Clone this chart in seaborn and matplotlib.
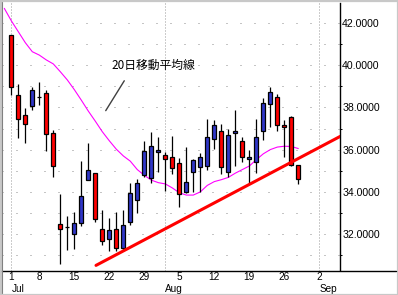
import matplotlib
matplotlib.use("Agg")
import matplotlib.pyplot as plt
import seaborn as sns
import pandas as pd
from matplotlib.lines import Line2D
from matplotlib.patches import Rectangle
import matplotlib.transforms as mtrans

# ---------------- data ----------------
dates = ["07-01", "07-02", "07-03", "07-05", "07-08", "07-09", "07-10", "07-11",
         "07-12", "07-15", "07-16", "07-17", "07-18", "07-19", "07-22", "07-23",
         "07-24", "07-25", "07-26", "07-29", "07-30", "07-31", "08-01", "08-02",
         "08-05", "08-06", "08-07", "08-08", "08-09", "08-12", "08-13", "08-14",
         "08-15", "08-16", "08-19", "08-20", "08-21", "08-22", "08-23", "08-26",
         "08-27", "08-28"]
opens = [41.44, 38.58, 37.63, 38.06, 38.48, 38.69, 36.77, 32.45, 32.31, 31.98,
         32.50, 34.57, 34.87, 32.21, 31.74, 32.21, 31.33, 32.55, 33.59, 34.77,
         34.65, 35.87, 35.74, 35.65, 35.36, 33.99, 34.95, 35.19, 35.21, 36.52,
         36.87, 34.92, 36.77, 36.39, 35.54, 35.40, 36.87, 38.15, 38.48, 37.15,
         37.53, 35.25]
highs = [41.44, 39.12, 37.96, 38.96, 39.21, 38.82, 36.93, 33.89, 32.85, 33.04,
         35.46, 36.30, 34.87, 33.12, 32.74, 33.02, 33.12, 34.41, 34.60, 36.41,
         36.84, 36.58, 35.87, 36.65, 35.62, 36.12, 35.54, 35.82, 37.45, 37.41,
         37.20, 36.98, 37.88, 36.60, 36.00, 37.45, 38.44, 38.97, 38.63, 37.41,
         37.58, 35.25]
lows = [38.59, 36.57, 36.33, 37.88, 38.13, 35.95, 34.71, 30.57, 31.23, 31.29,
        32.39, 34.57, 32.58, 31.48, 31.17, 31.19, 31.19, 32.40, 32.97, 34.70,
        34.43, 34.95, 34.05, 34.84, 33.29, 33.95, 33.99, 33.99, 35.05, 36.04,
        34.86, 34.68, 35.24, 35.40, 34.41, 34.89, 36.47, 37.09, 36.87, 35.66,
        35.24, 34.38]
closes = [38.96, 37.47, 37.20, 38.82, 38.48, 36.76, 35.24, 32.24, 32.31, 32.51,
          33.80, 35.02, 32.72, 31.64, 32.17, 31.33, 32.40, 33.94, 34.40, 35.93,
          36.16, 35.97, 35.54, 35.11, 33.89, 34.45, 35.49, 35.65, 36.60, 37.15,
          35.16, 36.68, 36.87, 35.63, 35.63, 36.58, 38.20, 38.72, 37.15, 37.06,
          35.28, 34.59]

# 20-day moving average as drawn (starts one session before Jul 1)
ma_x = list(range(-1, 42))
ma_values = [42.71, 42.12, 41.60, 41.08, 40.65, 40.49, 40.26, 40.07, 39.70, 39.31,
             38.85, 38.35, 37.83, 37.35, 36.85, 36.42, 36.02, 35.70, 35.45, 35.05,
             34.78, 34.55, 34.43, 34.37, 34.18, 33.95, 33.84, 33.84, 33.99, 34.30,
             34.48, 34.57, 34.68, 34.88, 35.05, 35.22, 35.52, 35.80, 36.00, 36.12,
             36.16, 36.15, 36.05]

# hand-drawn support trend line
trend_x = [12.1, 47.0]
trend_y = [30.50, 36.63]

day_ticks = [0, 4, 9, 14, 19, 24, 29, 34, 39, 44]
day_labels = ["1", "8", "15", "22", "29", "5", "12", "19", "26", "2"]
month_ticks = [0, 22, 44]
month_labels = ["Jul", "Aug", "Sep"]
y_major = [32, 34, 36, 38, 40, 42]
y_minor = [31, 33, 35, 37, 39, 41]
annotation_text = "20日移動平均線"

# ---------------- styling ----------------
sns.set_style("white")
plt.rcParams["font.family"] = ["Liberation Sans", "DejaVu Sans"]

W, H = 398, 295
fig = plt.figure(figsize=(W / 100, H / 100), dpi=100)
fig.patch.set_facecolor("white")

ax_l, ax_r, ax_t, ax_b = 2, 340, 3, 270.5
ax = fig.add_axes([ax_l / W, 1 - ax_b / H, (ax_r - ax_l) / W, (ax_b - ax_t) / H])
ax.set_facecolor("white")

df = pd.DataFrame({"date": dates, "open": opens, "high": highs,
                   "low": lows, "close": closes})
df["idx"] = range(len(df))
df["up"] = df["close"] >= df["open"]
df["color"] = df["up"].map({True: "#3036c8", False: "#ff0000"})

# grid
ax.set_yticks(y_major)
ax.set_yticks(y_minor, minor=True)
ax.yaxis.grid(True, which="both", linestyle=(0, (1, 13)), color="#8c8c8c", lw=0.72)
for m in month_ticks:
    ax.axvline(m, color="#9a9a9a", lw=0.72, linestyle=(0, (1, 2)), zorder=0.5)

# moving average
sns.lineplot(x=ma_x, y=ma_values, ax=ax, color="#ff00ff", lw=0.8, zorder=2)

# candles
ax.vlines(df["idx"], df["low"], df["high"], color="black", lw=0.9, zorder=3)
body_bottom = df[["open", "close"]].min(axis=1)
body_height = (df["close"] - df["open"]).abs()
ax.bar(df["idx"], body_height, bottom=body_bottom, width=0.62,
       color=df["color"], edgecolor="black", lw=0.9, zorder=4)

# trend line
sns.lineplot(x=trend_x, y=trend_y, ax=ax, color="#ff0000", lw=2.2, zorder=5)

# annotation
ax.text(14.34, 40.02, annotation_text, ha="left", va="center", fontsize=8.5,
        family=["Noto Sans CJK JP", "DejaVu Sans"], color="black", zorder=6)
ax.annotate("", xy=(13.49, 37.85), xytext=(16.14, 39.27),
            arrowprops=dict(arrowstyle="-", color="#404040", lw=1.0,
                            shrinkA=0, shrinkB=0))

# axes limits
ax.set_xlim(-1.329, 46.957)
ax.set_ylim(30.257, 42.964)

# y axis on right
ax.yaxis.tick_right()
ax.set_yticklabels([f"{v:.4f}" for v in y_major])
ax.tick_params(axis="y", which="major", length=0, pad=1.5, labelsize=7.6,
               colors="black")
ax.tick_params(axis="y", which="minor", length=1.6, width=0.72, direction="out",
               colors="black")

# x axis
ax.set_xticks(day_ticks)
ax.set_xticklabels(day_labels)
ax.tick_params(axis="x", length=0, pad=1.4, labelsize=7.2, colors="black")
trans = mtrans.blended_transform_factory(ax.transData, ax.transAxes)
for m, lab in zip(month_ticks, month_labels):
    ax.text(m, -0.0685, lab, transform=trans, ha="left", va="center",
            fontsize=7.2, color="black")

for s in ["left", "top", "bottom"]:
    ax.spines[s].set_visible(False)
ax.spines["right"].set_color("black")
ax.spines["right"].set_linewidth(1.0)
ax.set_xlabel("")
ax.set_ylabel("")
if ax.get_legend():
    ax.get_legend().remove()

# bottom axis line running across the full width
fig.add_artist(Line2D([2 / W, 396 / W], [1 - ax_b / H, 1 - ax_b / H],
                      transform=fig.transFigure, color="black", lw=1.0))
# window frame
fig.add_artist(Rectangle((0.5 / W, 0.5 / H), (W - 1) / W, (H - 1) / H,
                         transform=fig.transFigure, fill=False,
                         edgecolor="#c8c8c8", lw=1.6))
fig.add_artist(Line2D([1.8 / W, 1.8 / W], [2 / H, 1 - 2 / H],
                      transform=fig.transFigure, color="#808080", lw=0.8))

fig.savefig("out.png", dpi=100, facecolor="white")
